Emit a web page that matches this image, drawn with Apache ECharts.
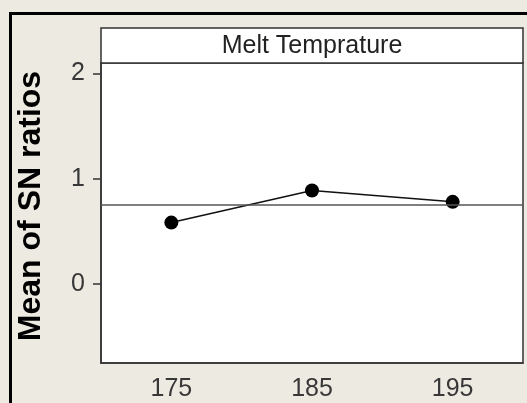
<!DOCTYPE html>
<html>
<head>
<meta charset="utf-8">
<script src="https://cdn.jsdelivr.net/npm/echarts@6/dist/echarts.min.js"></script>
<style>
  html, body { margin: 0; padding: 0; background: #EDEAE2; }
  #chart { width: 527px; height: 403px; }
</style>
</head>
<body>
<div id="chart"></div>
<script>
// Main effects plot for SN ratios: factor "Melt Temprature"
const factorName = 'Melt Temprature';
const yTitle = 'Mean of SN ratios';
const levels = ['175', '185', '195'];
const meanSN = [0.584, 0.889, 0.781];
const yTicks = [0, 1, 2];

// overall mean of the SN ratios, drawn as the horizontal reference line
const grandMean = meanSN.reduce((a, b) => a + b, 0) / meanSN.length;

const chart = echarts.init(document.getElementById('chart'), null, { renderer: 'canvas' });

const labelFont = { fontFamily: 'Arial, "Liberation Sans", sans-serif', fontSize: 25, color: '#383838' };

chart.setOption({
  backgroundColor: '#EDEAE2',
  animation: false,
  grid: {
    left: 101, right: 4, top: 63, bottom: 40,
    show: true, backgroundColor: '#ffffff', borderColor: '#333', borderWidth: 1.5
  },
  graphic: [
    {
      type: 'rect', left: 8, top: 11, silent: true,
      shape: { width: 560, height: 430 },
      style: { fill: 'none', stroke: '#000', lineWidth: 3 }
    },
    {
      type: 'rect', silent: true, z: 10,
      shape: { x: 101, y: 28, width: 422, height: 35 },
      style: { fill: '#ffffff', stroke: '#333', lineWidth: 1.5 }
    },
    {
      type: 'text', silent: true, z: 11,
      x: 312, y: 46,
      style: {
        text: factorName, align: 'center', verticalAlign: 'middle',
        font: '25px Arial, "Liberation Sans", sans-serif', fill: '#222'
      }
    },
    {
      type: 'text', silent: true, z: 11,
      x: 31, y: 206, rotation: Math.PI / 2,
      style: {
        text: yTitle, align: 'center', verticalAlign: 'middle',
        font: 'bold 32px Arial, "Liberation Sans", sans-serif', fill: '#000'
      }
    }
  ],
  xAxis: {
    type: 'category',
    data: levels,
    boundaryGap: true,
    axisLine: { onZero: false, lineStyle: { color: '#333', width: 1.5 } },
    axisTick: { alignWithLabel: true, length: 9, lineStyle: { color: '#333', width: 1.5 } },
    axisLabel: Object.assign({ margin: 14 }, labelFont),
    splitLine: { show: false }
  },
  yAxis: {
    type: 'value',
    min: -0.75,
    max: 2.1,
    axisLine: { show: true, onZero: false, lineStyle: { color: '#333', width: 1.5 } },
    axisTick: { show: true, length: 8, customValues: yTicks, lineStyle: { color: '#333', width: 1.5 } },
    axisLabel: Object.assign({ margin: 16, customValues: yTicks }, labelFont),
    splitLine: { show: false }
  },
  series: [
    {
      type: 'line',
      data: meanSN,
      symbol: 'circle',
      symbolSize: 14,
      lineStyle: { color: '#111', width: 1.5 },
      itemStyle: { color: '#000' },
      markLine: {
        silent: true,
        symbol: 'none',
        label: { show: false },
        lineStyle: { color: '#555', width: 1.5, type: 'solid' },
        data: [{ yAxis: grandMean }]
      }
    }
  ]
});
</script>
</body>
</html>
